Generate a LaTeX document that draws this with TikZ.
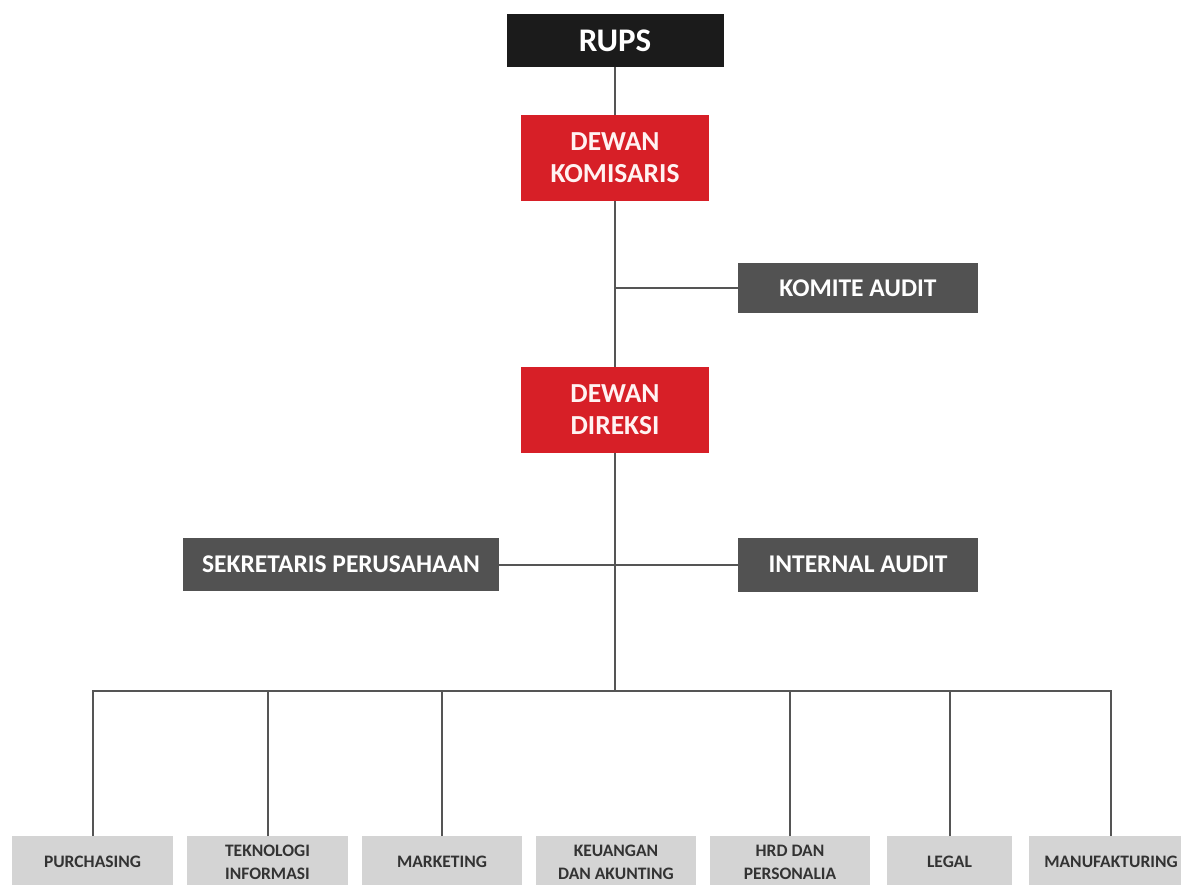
\documentclass[tikz,border=0pt]{standalone}
\usepackage{fontspec}
\setmainfont{Carlito}
\usepackage{xcolor}
\usepackage{tikz}
\definecolor{rupsblack}{HTML}{1B1B1B}
\definecolor{dewanred}{HTML}{D71F27}
\definecolor{unitgray}{HTML}{525252}
\definecolor{deptgray}{HTML}{D4D4D4}
\definecolor{depttext}{HTML}{333333}
\definecolor{linegray}{HTML}{555555}

\begin{document}
\begin{tikzpicture}[x=1pt,y=-1pt,
  box/.style={rectangle,inner sep=0pt,align=center,font=\bfseries},
  top node/.style={box,fill=rupsblack,text=white,minimum width=217,minimum height=53,font=\bfseries\fontsize{33}{38}\selectfont},
  board node/.style={box,fill=dewanred,text=white!95!red,minimum width=188,minimum height=86,font=\bfseries\fontsize{27.5}{32}\selectfont},
  unit node/.style={box,fill=unitgray,text=white,minimum height=53,font=\bfseries\fontsize{25.5}{30}\selectfont},
  dept node/.style={box,fill=deptgray,text=depttext,minimum height=52,anchor=north,font=\bfseries\fontsize{17.5}{23}\selectfont},
  link/.style={draw=linegray,line width=2pt}]
        \useasboundingbox (0,0) rectangle (1181,884);
        % top of the chart
        \node[top node] (rups) at (615,40.5) {RUPS};
        \node[board node] (dk) at (615,158) {DEWAN\\KOMISARIS};
        \node[unit node,minimum width=240,minimum height=50] (ka) at (858,288) {KOMITE AUDIT};
        \node[board node] (dd) at (615,410) {DEWAN\\DIREKSI};
        \node[unit node,minimum width=316] (sp) at (341,564.5) {SEKRETARIS PERUSAHAAN};
        \node[unit node,minimum width=240,minimum height=54] (ia) at (858,564.5) {INTERNAL AUDIT};
        \coordinate (kaj) at (615,288);
        \coordinate (bus) at (615,691);
        % departments
        \node[dept node,minimum width=161] (pur) at (92.5,836) {PURCHASING};
        \node[dept node,minimum width=161] (ti) at (267.5,836) {TEKNOLOGI\\INFORMASI};
        \node[dept node,minimum width=160] (mkt) at (442,836) {MARKETING};
        \node[dept node,minimum width=160] (keu) at (616,836) {KEUANGAN\\DAN AKUNTING};
        \node[dept node,minimum width=160] (hrd) at (790,836) {HRD DAN\\PERSONALIA};
        \node[dept node,minimum width=125] (leg) at (949.5,836) {LEGAL};
        \node[dept node,minimum width=164] (man) at (1111,836) {MANUFAKTURING};
        \path[link]
          (rups) -- (dk)
          (dk) -- (dd)
          (ka) -- (kaj)
          (sp) -- (ia)
          (dd) -- (bus);
        \foreach \d in {pur,ti,mkt,hrd,leg,man}
          \draw[link] (\d.north) |- (bus);
      \end{tikzpicture}
\end{document}
